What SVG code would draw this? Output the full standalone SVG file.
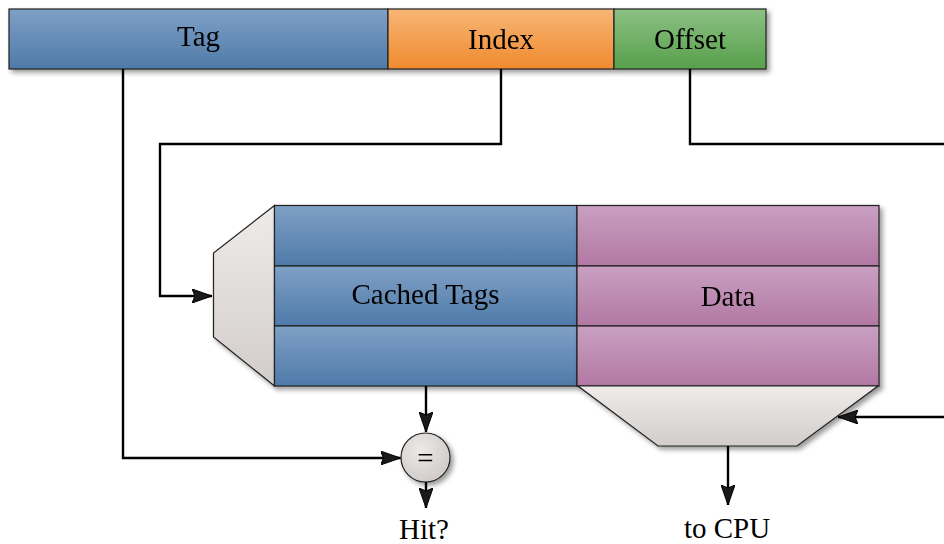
<svg xmlns="http://www.w3.org/2000/svg" width="944" height="544" viewBox="0 0 944 544">
  <defs>
    <linearGradient id="gBlue" x1="0" y1="0" x2="0" y2="1">
      <stop offset="0" stop-color="#7fa0c6"/>
      <stop offset="1" stop-color="#4e7aa8"/>
    </linearGradient>
    <linearGradient id="gOrange" x1="0" y1="0" x2="0" y2="1">
      <stop offset="0" stop-color="#f7b676"/>
      <stop offset="1" stop-color="#f08a2e"/>
    </linearGradient>
    <linearGradient id="gGreen" x1="0" y1="0" x2="0" y2="1">
      <stop offset="0" stop-color="#8cc083"/>
      <stop offset="1" stop-color="#57a04c"/>
    </linearGradient>
    <linearGradient id="gPurple" x1="0" y1="0" x2="0" y2="1">
      <stop offset="0" stop-color="#c9a0c1"/>
      <stop offset="1" stop-color="#b278a3"/>
    </linearGradient>
    <linearGradient id="gGray" x1="0" y1="0" x2="0" y2="1">
      <stop offset="0" stop-color="#eeebe9"/>
      <stop offset="1" stop-color="#d2cdca"/>
    </linearGradient>
    <radialGradient id="gCircle" cx="0.4" cy="0.35" r="0.7">
      <stop offset="0" stop-color="#ece9e7"/>
      <stop offset="1" stop-color="#cfcac7"/>
    </radialGradient>
    <filter id="shadow" x="-10%" y="-10%" width="130%" height="140%">
      <feDropShadow dx="3" dy="3" stdDeviation="2.5" flood-color="#000" flood-opacity="0.4"/>
    </filter>
    <marker id="arrow" viewBox="0 0 20 14" refX="20" refY="7" markerWidth="20" markerHeight="14" markerUnits="userSpaceOnUse" orient="auto">
      <path d="M0,0 L20,7 L0,14 L3,7 Z" fill="#1a1a1a" stroke="#000" stroke-width="1"/>
    </marker>
  </defs>
  <style>
    .box { stroke: #222; stroke-width: 1.2; }
    .lbl { font-family: "Liberation Serif", "DejaVu Serif", serif; font-size: 29px; fill: #000; text-anchor: middle; }
    .wire { fill: none; stroke: #000; stroke-width: 2.4; }
  </style>

  <rect width="944" height="544" fill="#fff"/>

  <!-- address fields -->
  <g id="address" filter="url(#shadow)">
    <g id="tag">
      <rect class="box" x="9" y="9" width="379" height="60" fill="url(#gBlue)"/>
      <text class="lbl" x="198.5" y="45.5">Tag</text>
    </g>
    <g id="index">
      <rect class="box" x="388" y="9" width="226" height="60" fill="url(#gOrange)"/>
      <text class="lbl" x="501" y="49">Index</text>
    </g>
    <g id="offset">
      <rect class="box" x="614" y="9" width="152" height="60" fill="url(#gGreen)"/>
      <text class="lbl" x="690" y="49">Offset</text>
    </g>
  </g>

  <!-- row selector -->
  <g id="row-mux" filter="url(#shadow)">
    <polygon class="box" points="274.5,205.5 213.5,253 213.5,337 274.5,386" fill="url(#gGray)"/>
  </g>

  <!-- cache arrays -->
  <g id="cached-tags" filter="url(#shadow)">
    <rect class="box" x="274.5" y="205.5" width="302.5" height="60.5" fill="url(#gBlue)"/>
    <rect class="box" x="274.5" y="266" width="302.5" height="60" fill="url(#gBlue)"/>
    <rect class="box" x="274.5" y="326" width="302.5" height="60" fill="url(#gBlue)"/>
    <text class="lbl" x="425.5" y="303.5">Cached Tags</text>
  </g>
  <g id="data" filter="url(#shadow)">
    <rect class="box" x="577" y="205.5" width="302" height="60.5" fill="url(#gPurple)"/>
    <rect class="box" x="577" y="266" width="302" height="60" fill="url(#gPurple)"/>
    <rect class="box" x="577" y="326" width="302" height="60" fill="url(#gPurple)"/>
    <text class="lbl" x="728" y="305.5">Data</text>
  </g>

  <!-- word selector -->
  <g id="word-mux" filter="url(#shadow)">
    <polygon class="box" points="578,386 878,386 797,446 658,446" fill="url(#gGray)"/>
  </g>

  <!-- comparator -->
  <g id="compare" filter="url(#shadow)">
    <circle class="box" cx="425.5" cy="457.5" r="24.5" fill="url(#gCircle)"/>
    <text class="lbl" x="425.5" y="467.5">=</text>
  </g>

  <!-- connectors -->
  <g id="connectors">
    <path class="wire" d="M501,69 V144 H160 V296 H212" marker-end="url(#arrow)"/>
    <path class="wire" d="M123,69 V458 H400.5" marker-end="url(#arrow)"/>
    <path class="wire" d="M690,69 V144 H944"/>
    <path class="wire" d="M944,417 H838" marker-end="url(#arrow)"/>
    <path class="wire" d="M426,386 V432" marker-end="url(#arrow)"/>
    <path class="wire" d="M426,482 V508" marker-end="url(#arrow)"/>
    <path class="wire" d="M728,446 V505" marker-end="url(#arrow)"/>
  </g>

  <!-- outputs -->
  <g id="hit-label">
    <text class="lbl" x="424" y="539">Hit?</text>
  </g>
  <g id="cpu-label">
    <text class="lbl" x="727" y="538">to CPU</text>
  </g>
</svg>
